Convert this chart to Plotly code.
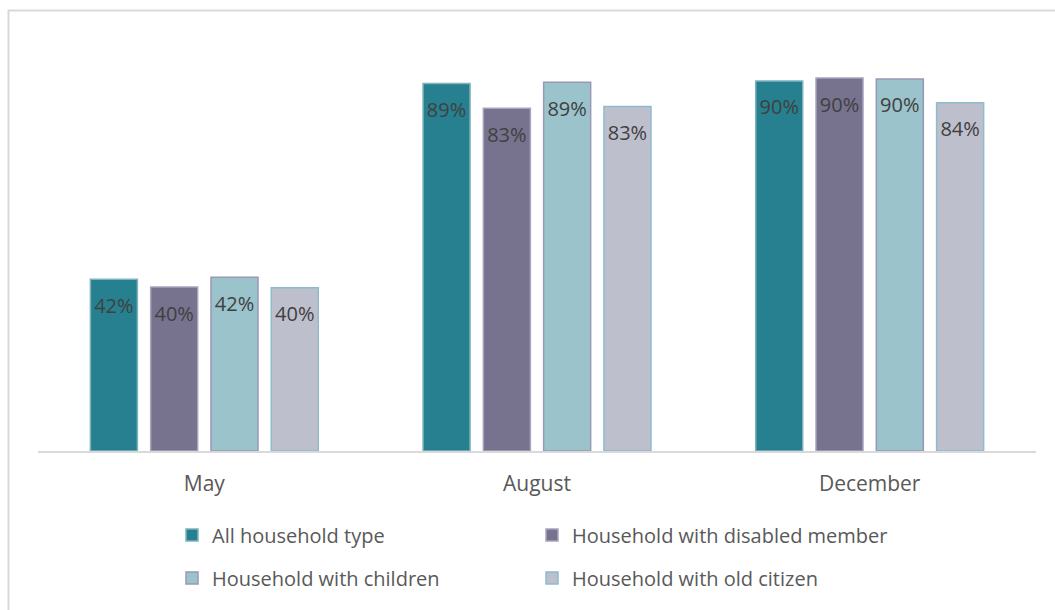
import plotly.graph_objects as go

months = ["May", "August", "December"]
series_names = ["All household type", "Household with disabled member",
                "Household with children", "Household with old citizen"]
all_household = [41.6, 89.0, 89.6]
disabled_member = [39.7, 83.0, 90.3]
with_children = [42.1, 89.3, 90.1]
old_citizen = [39.5, 83.4, 84.3]
series_values = [all_household, disabled_member, with_children, old_citizen]

fill_colors = ["#26808f", "#77738f", "#9bc3cb", "#bebfcc"]
line_colors = ["#7fb3bd", "#a8a4bd", "#9a98b4", "#8dbccb"]

FONT = "Open Sans"

W, H = 1055, 610
L, R, T, B = 38, W - 1036, 38, H - 451
pw, ph = 1036 - 38, 451 - 38

def px_x(p):
    return (p - L) / pw

def px_y(p):
    return (451 - p) / ph

fig = go.Figure()
for i, (name, vals, fc, lc) in enumerate(zip(series_names, series_values, fill_colors, line_colors)):
    fig.add_trace(go.Bar(
        x=months, y=vals, name=name,
        marker=dict(color=fc, line=dict(color=lc, width=1.5)),
        hoverinfo="skip",
        legend="legend" if i in (0, 1) else "legend2",
    ))
for name, vals in zip(series_names, series_values):
    fig.add_trace(go.Scatter(
        x=months, y=vals, mode="markers+text",
        text=[f"{v:.0f}%" for v in vals],
        textposition="bottom center",
        textfont=dict(family=FONT, size=20, color="#404040"),
        marker=dict(size=28, opacity=0),
        showlegend=False, hoverinfo="skip",
    ))

legend_common = dict(orientation="h", xanchor="left", yanchor="middle",
                     entrywidth=315, entrywidthmode="pixels",
                     font=dict(family=FONT, size=20, color="#595959"),
                     itemwidth=30, bgcolor="rgba(0,0,0,0)")

fig.update_layout(
    width=W, height=H,
    margin=dict(l=L, r=R, t=T, b=B),
    paper_bgcolor="white", plot_bgcolor="white",
    barmode="group", bargap=0.275, bargroupgap=0.22,
    scattermode="group", scattergap=0.275,
    font=dict(family=FONT, color="#595959"),
    xaxis=dict(showgrid=False, showline=True, linecolor="#d9d9d9", linewidth=1.5,
               ticks="", ticklabelstandoff=13,
               tickfont=dict(family=FONT, size=21, color="#595959")),
    yaxis=dict(range=[0, 100], visible=False),
    legend=dict(x=px_x(172), y=px_y(535), **legend_common),
    legend2=dict(x=px_x(172), y=px_y(578), **legend_common),
    shapes=[dict(type="rect", xref="paper", yref="paper",
                 x0=px_x(8.5), x1=px_x(1070), y0=px_y(640), y1=px_y(10.5),
                 line=dict(color="#d9d9d9", width=2), fillcolor="rgba(0,0,0,0)",
                 layer="below")],
)

fig.write_html("out.html")
